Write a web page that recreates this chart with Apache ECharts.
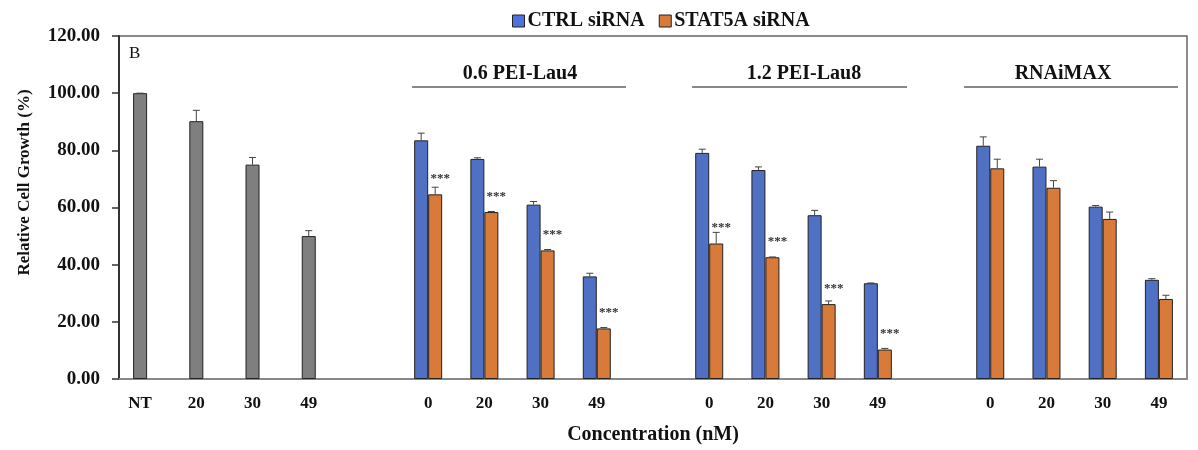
<!DOCTYPE html>
<html>
<head>
<meta charset="utf-8">
<script src="https://cdn.jsdelivr.net/npm/echarts@6/dist/echarts.min.js"></script>
<style>html,body{margin:0;padding:0;background:#fff;}#c{width:1198px;height:450px;}</style>
</head>
<body>
<div id="c"></div>
<script>
const categories = ['NT','20','30','49','','0','20','30','49','','0','20','30','49','','0','20','30','49'];
const ctrlValues   = [100, 90.2, 75.0, 50.0, null, 83.5, 77.0, 61.0, 35.9, null, 79.1, 73.1, 57.3, 33.5, null, 81.6, 74.3, 60.3, 34.7];
const ctrlErrors   = [0,   3.8,  2.5,  1.9,  null, 2.5,  0.4,  1.1,  1.1,  null, 1.3,  1.1,  1.7,  0.1,  null, 3.1,  2.6,  0.4,  0.4];
const stat5aValues = [null,null,null,null,null, 64.6, 58.4, 45.0, 17.7, null, 47.4, 42.6, 26.2, 10.3, null, 73.7, 66.9, 56.0, 28.0];
const stat5aErrors = [null,null,null,null,null, 2.5,  0.2,  0.3,  0.3,  null, 3.9,  0.1,  1.1,  0.4,  null, 3.2,  2.5,  2.4,  1.3];
const significance = ['','','','','','***','***','***','***','','***','***','***','***','','','','',''];
const untreatedCount = 4;
const yTicks = [0, 20, 40, 60, 80, 100, 120];
const groupTitles = ['0.6 PEI-Lau4', '1.2 PEI-Lau8', 'RNAiMAX'];

const FONT = 'Liberation Serif';
const BLUE = '#5070c4', ORANGE = '#d87b3a', GRAY = '#7f7f7f';
const BAR_W = 14;

function errData(vals, errs) {
  const out = [];
  vals.forEach((v, i) => { if (v != null && errs[i] != null) out.push([i, v, errs[i]]); });
  return out;
}
function errSeries(data, offset) {
  return {
    type: 'custom', z: 5, silent: true,
    data: data,
    encode: { x: 0, y: 1 },
    renderItem: function (params, api) {
      const i = api.value(0), v = api.value(1), e = api.value(2);
      const p0 = api.coord([i, v]);
      const p1 = api.coord([i, v + e]);
      const x = p0[0] + offset;
      const st = { stroke: '#444', lineWidth: 1 };
      return {
        type: 'group',
        children: [
          { type: 'line', shape: { x1: x, y1: p0[1], x2: x, y2: p1[1] }, style: st },
          { type: 'line', shape: { x1: x - 3.5, y1: p1[1], x2: x + 3.5, y2: p1[1] }, style: st }
        ]
      };
    }
  };
}

const chart = echarts.init(document.getElementById('c'));
const titleStyle = { fontFamily: FONT, fontWeight: 'bold', fontSize: 20, fill: '#111', textAlign: 'center', textVerticalAlign: 'middle' };
chart.setOption({
  animation: false,
  backgroundColor: '#fff',
  legend: {
    left: 507, top: 6,
    itemWidth: 12, itemHeight: 12, itemGap: 14,
    icon: 'rect',
    textStyle: { fontFamily: FONT, fontWeight: 'bold', fontSize: 20, color: '#111', padding: [0, 0, 0, -2] },
    itemStyle: { borderColor: '#222', borderWidth: 1 },
    data: ['CTRL siRNA', 'STAT5A siRNA']
  },
  grid: { left: 119, right: 11, top: 36, bottom: 68, show: true, borderColor: '#666', borderWidth: 1.5, backgroundColor: 'transparent' },
  xAxis: {
    type: 'category',
    data: categories,
    name: 'Concentration (nM)',
    nameLocation: 'middle',
    nameGap: 46,
    nameTextStyle: { fontFamily: FONT, fontWeight: 'bold', fontSize: 20, color: '#111' },
    axisLine: { lineStyle: { color: '#888', width: 2 } },
    axisTick: { show: false },
    axisLabel: {
      interval: 0, margin: 16,
      fontFamily: FONT, fontWeight: 'bold', fontSize: 17, color: '#111',
      formatter: function (val, idx) { return idx < untreatedCount ? '{g|' + val + '}' : val; },
      rich: { g: { fontFamily: FONT, fontWeight: 'bold', fontSize: 17, color: '#111', padding: [0, 14, 0, 0] } }
    }
  },
  yAxis: {
    type: 'value',
    min: yTicks[0], max: yTicks[yTicks.length - 1], interval: 20,
    name: 'Relative Cell Growth (%)',
    nameLocation: 'middle',
    nameGap: 86,
    nameTextStyle: { fontFamily: FONT, fontWeight: 'bold', fontSize: 17, color: '#111', padding: [0, 0, 0, 50] },
    axisLine: { show: true, lineStyle: { color: '#333', width: 2 } },
    axisTick: { show: true, length: 7, lineStyle: { color: '#333', width: 1.5 } },
    splitLine: { show: false },
    axisLabel: {
      margin: 19,
      fontFamily: FONT, fontWeight: 'bold', fontSize: 19, color: '#111',
      formatter: function (v) { return v.toFixed(2); }
    }
  },
  series: [
    {
      name: 'CTRL siRNA', type: 'bar', barWidth: BAR_W, barGap: '0%',
      itemStyle: {
        color: function (p) { return p.dataIndex < untreatedCount ? GRAY : BLUE; },
        borderColor: '#222', borderWidth: 1
      },
      data: ctrlValues
    },
    {
      name: 'STAT5A siRNA', type: 'bar', barWidth: BAR_W, barGap: '0%',
      itemStyle: { color: ORANGE, borderColor: '#222', borderWidth: 1 },
      label: {
        show: true, position: 'top', distance: 9, offset: [5, 0],
        fontFamily: FONT, fontWeight: 'bold', fontSize: 13, color: '#333',
        formatter: function (p) { return significance[p.dataIndex] || ''; }
      },
      data: stat5aValues
    },
    errSeries(errData(ctrlValues, ctrlErrors), -BAR_W / 2),
    errSeries(errData(stat5aValues, stat5aErrors), BAR_W / 2)
  ],
  graphic: [
    { type: 'text', left: 129, top: 45, style: { text: 'B', fontFamily: FONT, fontSize: 17, fill: '#111' } },
    { type: 'text', x: 520, y: 74, style: Object.assign({ text: groupTitles[0] }, titleStyle) },
    { type: 'line', shape: { x1: 412, y1: 87, x2: 626, y2: 87 }, style: { stroke: '#888', lineWidth: 2 } },
    { type: 'text', x: 804, y: 74, style: Object.assign({ text: groupTitles[1] }, titleStyle) },
    { type: 'line', shape: { x1: 692, y1: 87, x2: 907, y2: 87 }, style: { stroke: '#888', lineWidth: 2 } },
    { type: 'text', x: 1063, y: 74, style: Object.assign({ text: groupTitles[2] }, titleStyle) },
    { type: 'line', shape: { x1: 964, y1: 87, x2: 1178, y2: 87 }, style: { stroke: '#888', lineWidth: 2 } }
  ]
});
</script>
</body>
</html>
